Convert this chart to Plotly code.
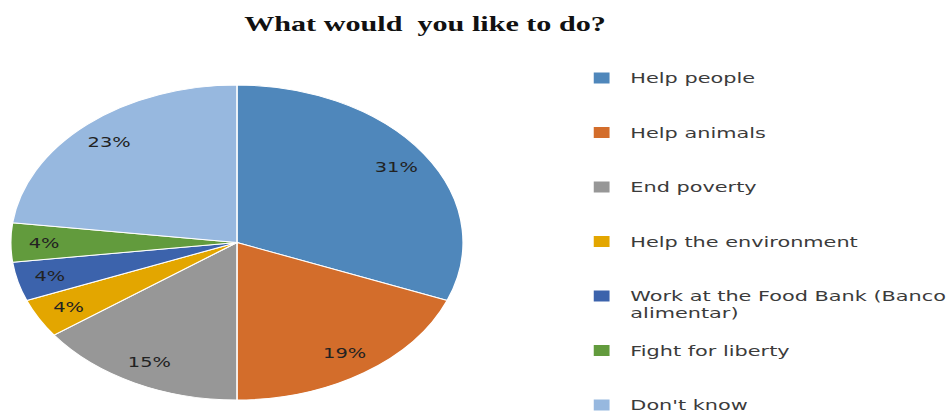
import math
import plotly.graph_objects as go

# ---- data -------------------------------------------------------------
categories = [
    "Help people",
    "Help animals",
    "End poverty",
    "Help the environment",
    "Work at the Food Bank (Banco<br>alimentar)",
    "Fight for liberty",
    "Don't know",
]
shares = [31, 19, 15, 4, 4, 4, 23]
slice_colors = ["#4F87BB", "#D36D2B", "#979797", "#E3A600", "#3C63AC", "#629B3D", "#97B8DF"]
title_text = "What would  you like to do?"

# ---- geometry (drawn narrow, then widened into an oval) ---------------
FIG_W, FIG_H = 663, 412
STRETCH = 952 / FIG_W
CX, CY, R = 165, 242.5, 157.5          # pie centre / radius in px
LABEL_R = 0.85                          # percent labels sit near the rim

# legend entries: each padded to three lines for Excel-like spacing
LEGEND_LINES = 3
legend_labels = []
for c in categories:
    parts = c.split("<br>")
    txt = "<br>".join(f'<span style="font-size:14.5px">{p}</span>' for p in parts)
    txt += "<br> " * (LEGEND_LINES - len(parts))
    legend_labels.append(txt)

fig = go.Figure(
    go.Pie(
        labels=legend_labels,
        values=shares,
        sort=False,
        direction="clockwise",
        rotation=0,
        marker=dict(colors=slice_colors, line=dict(color="white", width=1)),
        textinfo="none",
        hoverinfo="skip",
        domain=dict(
            x=[(CX - R) / FIG_W, (CX + R) / FIG_W],
            y=[(FIG_H - CY - R) / FIG_H, (FIG_H - CY + R) / FIG_H],
        ),
    )
)

# percentage labels placed along each slice's mid-angle
total = sum(shares)
cum = 0
for v in shares:
    mid = (cum + v / 2) / total * 2 * math.pi
    cum += v
    px = CX + LABEL_R * R * math.sin(mid)
    py = CY - LABEL_R * R * math.cos(mid)
    fig.add_annotation(
        x=px / FIG_W, y=1 - py / FIG_H, xref="paper", yref="paper",
        text=f"{round(v / total * 100)}%", showarrow=False,
        font=dict(family="DejaVu Sans", size=13.5, color="#222222"),
        xanchor="center", yanchor="middle",
    )

fig.update_layout(
    width=FIG_W,
    height=FIG_H,
    margin=dict(l=0, r=0, t=0, b=0, autoexpand=False),
    paper_bgcolor="white",
    plot_bgcolor="white",
    title=dict(
        text=title_text,
        x=296 / FIG_W, xanchor="center",
        y=1 - 24 / FIG_H, yanchor="middle", yref="container",
        font=dict(family="Liberation Serif", size=21, color="#111111", weight="bold"),
    ),
    showlegend=True,
    legend=dict(
        x=399 / FIG_W, xanchor="left",
        y=1 - 63 / FIG_H, yanchor="top",
        valign="top",
        bgcolor="rgba(0,0,0,0)",
        font=dict(family="DejaVu Sans", size=13.2, color="#3b3b3b"),
        itemclick=False, itemdoubleclick=False,
    ),
)

widen = (
    "var gd=document.getElementById('{plot_id}');"
    "document.body.style.margin='0';document.body.style.overflow='hidden';"
    f"gd.style.transformOrigin='0 0';gd.style.transform='scaleX({STRETCH:.4f})';"
)
fig.write_html("out.html", config={"displayModeBar": False}, post_script=widen)
